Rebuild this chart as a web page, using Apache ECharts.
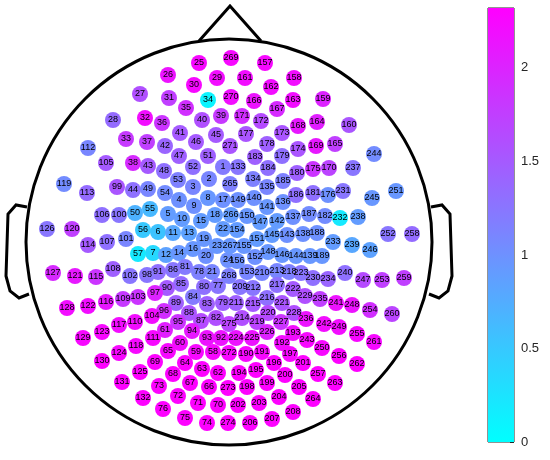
<!DOCTYPE html>
<html>
<head>
<meta charset="utf-8">
<script src="https://cdn.jsdelivr.net/npm/echarts@6/dist/echarts.min.js"></script>
<style>
  html, body { margin: 0; padding: 0; background: #fff; }
  #chart { width: 550px; height: 460px; }
</style>
</head>
<body>
<div id="chart"></div>
<script>
// electrode layout (page units, y grows downward), channel n is at index n-1
const chanX = [
  223, 209, 193, 179, 168, 158, 153, 208, 194, 182, 173, 166, 189, 179, 201, 193, 223, 215, 204, 206,
  212, 223, 217, 228, 199, 168, 140, 113, 217, 194, 169, 145, 126, 208, 186, 162, 147, 133, 221, 202,
  180, 165, 148, 133, 216, 196, 179, 164, 148, 135, 208, 193, 178, 165, 150, 143, 138, 213, 196, 180,
  165, 218, 202, 185, 168, 209, 190, 173, 155, 218, 198, 178, 159, 207, 185, 163, 218, 199, 223, 204,
  185, 216, 207, 193, 181, 173, 201, 189, 176, 167, 158, 221, 207, 192, 178, 164, 155, 147, 117, 119,
  126, 130, 138, 152, 106, 102, 107, 113, 123, 135, 153, 88, 87, 88, 96, 106, 119, 136, 64, 72,
  75, 88, 102, 119, 140, 47, 53, 67, 83, 102, 122, 143, 238, 253, 267, 283, 293, 303, 310, 254,
  267, 277, 287, 296, 272, 282, 260, 268, 238, 247, 257, 255, 247, 237, 244, 237, 265, 294, 323, 349,
  245, 271, 293, 317, 335, 254, 277, 298, 316, 329, 242, 261, 282, 298, 313, 328, 246, 267, 282, 297,
  313, 325, 255, 268, 283, 296, 309, 317, 322, 246, 262, 282, 293, 239, 256, 274, 290, 247, 267, 285,
  303, 238, 259, 279, 299, 250, 272, 293, 240, 262, 236, 253, 277, 242, 253, 267, 277, 289, 257, 268,
  282, 293, 301, 236, 252, 267, 281, 294, 305, 313, 343, 340, 333, 328, 320, 306, 353, 358, 352, 345,
  336, 324, 307, 374, 372, 370, 363, 352, 339, 322, 396, 388, 382, 370, 357, 339, 318, 412, 404, 392,
  374, 357, 335, 313, 230, 231, 230, 229, 231, 231, 230, 229, 228, 228, 229
];
const chanY = [
  167, 179, 187, 200, 214, 232, 253, 198, 206, 219, 233, 255, 233, 253, 221, 249, 200, 215, 239, 256,
  272, 229, 246, 260, 63, 75, 94, 120, 78, 85, 98, 118, 139, 100, 108, 123, 142, 163, 116, 120,
  133, 146, 166, 190, 135, 142, 156, 171, 189, 213, 156, 167, 180, 193, 209, 230, 254, 352, 352, 343,
  330, 373, 369, 363, 351, 387, 383, 374, 362, 405, 403, 396, 386, 423, 418, 409, 286, 272, 303, 287,
  267, 318, 304, 297, 284, 270, 321, 313, 303, 288, 272, 338, 338, 331, 322, 311, 293, 275, 187, 215,
  239, 276, 297, 316, 163, 215, 242, 269, 299, 322, 338, 148, 193, 245, 277, 302, 325, 346, 184, 229,
  276, 306, 332, 353, 372, 229, 273, 308, 338, 361, 382, 398, 167, 179, 187, 202, 217, 234, 256, 198,
  207, 221, 235, 256, 235, 255, 222, 252, 200, 216, 239, 257, 272, 230, 246, 261, 63, 78, 99, 125,
  78, 87, 100, 122, 144, 101, 109, 126, 146, 168, 116, 121, 133, 149, 169, 195, 134, 144, 156, 173,
  193, 216, 157, 168, 181, 195, 214, 233, 256, 354, 352, 343, 333, 373, 370, 363, 354, 387, 383, 375,
  363, 405, 403, 397, 387, 423, 419, 412, 287, 273, 303, 288, 271, 318, 304, 298, 285, 272, 322, 313,
  303, 289, 273, 338, 338, 332, 322, 313, 296, 278, 191, 218, 242, 279, 299, 319, 168, 217, 245, 273,
  303, 324, 340, 154, 198, 250, 280, 305, 327, 348, 191, 234, 280, 310, 334, 356, 374, 234, 278, 314,
  342, 364, 383, 399, 184, 215, 246, 276, 58, 97, 146, 353, 388, 423, 324
];
const chanVal = [
  1.2, 1.1, 1.1, 1.0, 0.9, 0.55, 0.35, 0.95, 1.0, 0.9, 0.8, 0.85, 0.85, 0.95, 0.9, 0.95, 1.0, 0.9, 0.95, 1.0,
  1.1, 0.9, 0.95, 1.0, 2.25, 2.15, 1.6, 1.35, 2.2, 2.25, 1.75, 2.2, 1.8, 0.1, 1.9, 1.85, 1.75, 1.95, 1.8, 1.6,
  1.5, 1.4, 1.5, 1.3, 1.5, 1.5, 1.45, 1.3, 1.1, 0.7, 1.45, 1.3, 1.15, 1.05, 0.65, 0.5, 0.2, 2.25, 2.25, 2.2,
  2.05, 2.3, 2.3, 2.3, 2.25, 2.3, 2.3, 2.3, 2.3, 2.3, 2.3, 2.3, 2.3, 2.3, 2.3, 2.3, 1.25, 1.15, 1.45, 1.3,
  1.2, 1.6, 1.45, 1.2, 1.35, 1.25, 1.65, 1.55, 1.45, 1.5, 1.3, 2.15, 2.15, 2.1, 1.85, 1.9, 2.0, 1.25, 1.55, 1.25,
  1.1, 1.25, 1.85, 2.2, 1.5, 1.3, 1.3, 1.45, 1.8, 2.2, 2.25, 1.1, 1.35, 1.5, 1.85, 2.1, 2.2, 2.25, 1.05, 1.75,
  2.1, 2.2, 2.25, 2.25, 2.3, 1.25, 1.95, 2.2, 2.25, 2.3, 2.3, 2.3, 1.25, 1.15, 1.1, 1.0, 1.0, 1.0, 0.95, 1.0,
  0.95, 0.9, 1.0, 0.95, 0.9, 0.95, 0.9, 0.95, 1.0, 0.95, 0.9, 1.0, 1.1, 0.9, 0.95, 1.0, 2.25, 2.2, 2.0, 1.55,
  2.2, 2.2, 2.2, 2.05, 1.75, 2.15, 1.95, 2.1, 2.1, 1.7, 1.9, 1.65, 1.55, 1.55, 1.85, 1.0, 1.55, 1.45, 1.3, 1.45,
  1.3, 1.05, 1.45, 1.3, 1.15, 1.3, 1.05, 1.0, 0.95, 2.25, 2.25, 2.2, 2.2, 2.3, 2.3, 2.3, 2.25, 2.3, 2.3, 2.3,
  2.3, 2.3, 2.3, 2.3, 2.3, 2.3, 2.3, 2.3, 1.25, 1.1, 1.45, 1.25, 1.1, 1.6, 1.5, 1.3, 1.3, 1.15, 1.7, 1.65,
  1.55, 1.5, 1.25, 2.15, 2.15, 2.0, 1.85, 1.6, 1.6, 1.3, 1.25, 0.2, 0.9, 1.4, 1.75, 2.15, 1.25, 0.9, 0.8, 1.3,
  2.15, 2.2, 2.25, 1.05, 0.95, 0.85, 1.65, 2.15, 2.2, 2.25, 0.95, 1.25, 1.75, 1.9, 2.25, 2.3, 2.3, 1.35, 1.75, 1.7,
  2.25, 2.3, 2.3, 2.3, 1.15, 0.9, 0.95, 1.15, 2.25, 2.2, 1.55, 2.25, 2.3, 2.3, 1.7
];

const colorMin = 0;
const colorMax = 2.32;
const cbTicks = [0, 0.5, 1, 1.5, 2];

const chart = echarts.init(document.getElementById('chart'), null, { renderer: 'canvas' });

const points = chanX.map((x, i) => ({ name: String(i + 1), value: [x, chanY[i], chanVal[i]] }));

// head outline
const head = { cx: 229, cy: 242, r: 203 };
const outline = { stroke: '#000', lineWidth: 3, fill: null };

chart.setOption({
  animation: false,
  textStyle: { fontFamily: 'Liberation Sans, Arial, sans-serif' },
  grid: [
    { left: 0, top: 0, width: 550, height: 460 },
    { left: 488, top: 8, width: 26, height: 434, show: true, borderColor: '#262626', borderWidth: 1 },
  ],
  xAxis: [
    { type: 'value', gridIndex: 0, min: 0, max: 550, show: false },
    { type: 'category', gridIndex: 1, data: ['cb'], show: false },
  ],
  yAxis: [
    { type: 'value', gridIndex: 0, min: 0, max: 460, inverse: true, show: false },
    {
      type: 'value', gridIndex: 1, position: 'right', min: colorMin, max: colorMax, interval: 0.5,
      axisLine: { show: false },
      axisTick: { show: true, inside: true, length: 4, lineStyle: { color: '#262626' } },
      axisLabel: {
        color: '#262626', fontSize: 13, margin: 7, showMaxLabel: false,
        formatter: (v) => (cbTicks.includes(v) ? String(v) : ''),
      },
      splitLine: { show: false },
    },
  ],
  visualMap: {
    show: false, seriesIndex: 0, dimension: 2, min: colorMin, max: colorMax,
    inRange: { color: ['#00ffff', '#ff00ff'] },
  },
  graphic: [
    { type: 'circle', shape: { cx: head.cx, cy: head.cy, r: head.r }, style: outline, z: 1 },
    { type: 'polyline', shape: { points: [[199, 41], [230, 6], [261, 41]] }, style: outline, z: 1 },
    { type: 'polyline', shape: { points: [[27, 207], [16, 205], [8, 214], [6, 276], [10, 291], [19, 298], [29, 294]] }, style: outline, z: 1 },
    { type: 'polyline', shape: { points: [[431, 207], [442, 205], [450, 214], [452, 276], [448, 291], [439, 298], [429, 294]] }, style: outline, z: 1 },
  ],
  series: [
    {
      type: 'scatter', xAxisIndex: 0, yAxisIndex: 0, data: points,
      symbolSize: 16, z: 3,
      itemStyle: { opacity: 1 },
      label: {
        show: true, position: 'inside', formatter: (p) => p.name,
        color: '#000', fontSize: 9, fontFamily: 'Liberation Sans, Arial, sans-serif',
      },
      emphasis: { disabled: true },
    },
    {
      type: 'bar', xAxisIndex: 1, yAxisIndex: 1, data: [colorMax], barWidth: '100%', silent: true,
      itemStyle: {
        color: new echarts.graphic.LinearGradient(0, 1, 0, 0, [
          { offset: 0, color: '#00ffff' },
          { offset: 1, color: '#ff00ff' },
        ]),
      },
    },
  ],
});
</script>
</body>
</html>
